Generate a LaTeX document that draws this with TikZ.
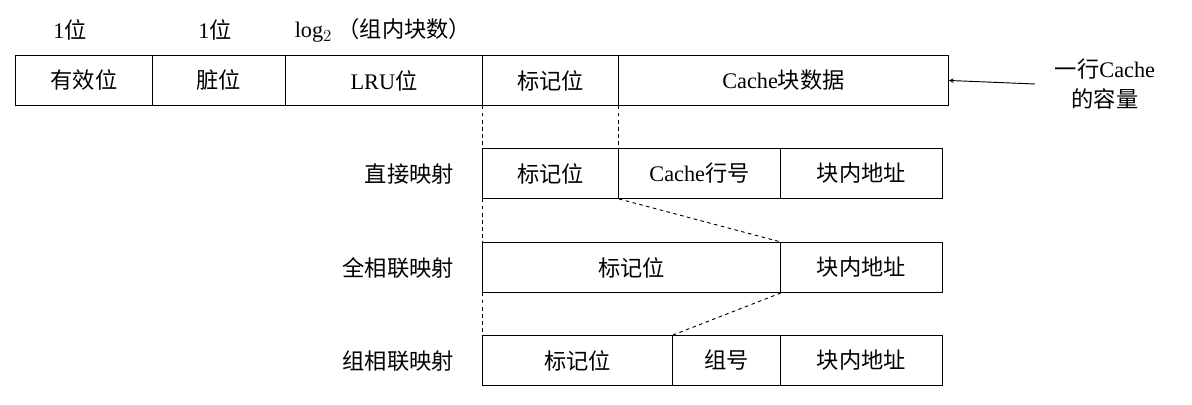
\documentclass[tikz,border=0pt]{standalone}
\usepackage{fontspec}
\setmainfont{Liberation Serif}
\newfontfamily\cjk{Noto Sans CJK SC}
\usetikzlibrary{calc}

\tikzset{
  cell/.style={draw, thick, inner sep=0pt, anchor=north west, font=\fontsize{19}{22}\selectfont},
  lbl/.style={font=\fontsize{19}{22}\selectfont},
  guide/.style={thick, dashed}
}
\newcommand{\cellbox}[5]{% name, x1, x2, y1, text
  \node[cell, minimum width={(#3-#2)*0.03cm}, minimum height=1.5cm] (#1) at (#2,#4) {#5};}

\begin{document}
\begin{tikzpicture}[x=0.03cm, y=-0.03cm]
            \useasboundingbox (0,0) rectangle (1192,405);
            % line format
            \cellbox{valid}{15}{152}{55}{\cjk 有效位}
            \cellbox{dirty}{152}{285}{55}{\cjk 脏位}
            \cellbox{lru}{285}{482}{55}{LRU{\cjk 位}}
            \cellbox{tag}{482}{618}{55}{\cjk 标记位}
            \cellbox{data}{618}{948}{55}{Cache{\cjk 块数据}}
            \node[lbl] (w1) at (70,30) {1{\cjk 位}};
            \node[lbl] (w2) at (215,30) {1{\cjk 位}};
            \node[lbl] (w3) at (383,30) {log$_2$\ {\cjk （组内块数）}};
            \node[lbl, align=center, font=\fontsize{19}{26}\selectfont] (cap) at (1105,84) {{\cjk 一行}Cache\\{\cjk 的容量}};
            \coordinate (capin) at (1035,84);
            \draw[thick, ->, >=stealth] (capin) -- (data.east);

            % direct mapping
            \cellbox{dtag}{482}{618}{148}{\cjk 标记位}
            \cellbox{dline}{618}{780}{148}{Cache{\cjk 行号}}
            \cellbox{doff}{780}{942}{148}{\cjk 块内地址}
            \node[lbl, anchor=east] (dname) at (458,174) {\cjk 直接映射};

            % fully associative
            \cellbox{ftag}{482}{780}{242}{\cjk 标记位}
            \cellbox{foff}{780}{942}{242}{\cjk 块内地址}
            \node[lbl, anchor=east] (fname) at (458,268) {\cjk 全相联映射};

            % set associative
            \cellbox{stag}{482}{672}{335}{\cjk 标记位}
            \cellbox{sset}{672}{780}{335}{\cjk 组号}
            \cellbox{soff}{780}{942}{335}{\cjk 块内地址}
            \node[lbl, anchor=east] (sname) at (458,361) {\cjk 组相联映射};

            % guides
            \draw[guide] (tag.south west) -- (dtag.north west);
            \draw[guide] (tag.south east) -- (dtag.north east);
            \draw[guide] (dtag.south west) -- (ftag.north west);
            \draw[guide] (dtag.south east) -- (ftag.north east);
            \draw[guide] (ftag.south west) -- (stag.north west);
            \draw[guide] (ftag.south east) -- (stag.north east);
        \end{tikzpicture}
\end{document}
